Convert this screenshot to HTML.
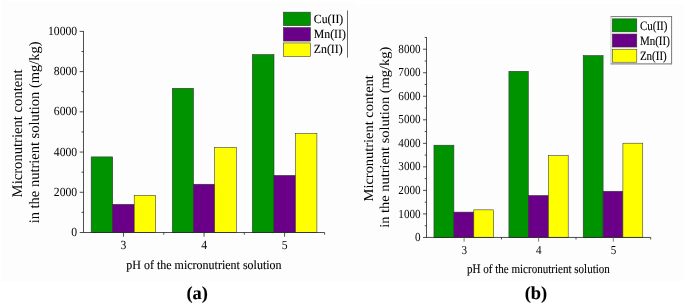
<!DOCTYPE html>
<html><head><meta charset="utf-8"><title>chart</title>
<style>
html,body{margin:0;padding:0;background:#fff;}
body{width:685px;height:304px;overflow:hidden;font-family:"Liberation Serif",serif;}
svg{display:block;}
text{font-family:"Liberation Serif",serif;fill:#000;text-rendering:geometricPrecision;stroke:#000;stroke-width:0.1px;}
text.tk{stroke-width:0;}
</style></head><body>
<svg width="685" height="304" viewBox="0 0 685 304">
<defs><filter id="soft" x="0" y="0" width="685" height="304" filterUnits="userSpaceOnUse"><feGaussianBlur stdDeviation="0.3"/></filter></defs>
<rect x="0" y="0" width="685" height="304" fill="#ffffff"/>
<g filter="url(#soft)">
<rect x="1" y="1" width="354" height="280.5" fill="#fdfdfd"/>
<rect x="355" y="4" width="328.5" height="277.5" fill="#fdfdfd"/>

<rect x="91.15" y="156.89" width="21.55" height="75.61" fill="#009300" stroke="#303030" stroke-width="0.55"/>
<rect x="112.70" y="204.35" width="21.50" height="28.15" fill="#6b0087" stroke="#303030" stroke-width="0.55"/>
<rect x="134.20" y="195.30" width="21.50" height="37.20" fill="#ffff00" stroke="#303030" stroke-width="0.55"/>
<rect x="172.30" y="88.31" width="21.20" height="144.19" fill="#009300" stroke="#303030" stroke-width="0.55"/>
<rect x="193.50" y="184.24" width="21.20" height="48.26" fill="#6b0087" stroke="#303030" stroke-width="0.55"/>
<rect x="214.70" y="147.43" width="21.60" height="85.07" fill="#ffff00" stroke="#303030" stroke-width="0.55"/>
<rect x="252.30" y="54.53" width="21.70" height="177.97" fill="#009300" stroke="#303030" stroke-width="0.55"/>
<rect x="274.00" y="175.39" width="21.50" height="57.11" fill="#6b0087" stroke="#303030" stroke-width="0.55"/>
<rect x="295.50" y="133.56" width="21.40" height="98.94" fill="#ffff00" stroke="#303030" stroke-width="0.55"/>
<g stroke="#222" stroke-width="0.8" fill="none">
<line x1="83.5" y1="31.0" x2="83.5" y2="232.5"/>
<line x1="83.1" y1="232.5" x2="324.6" y2="232.5"/>
<line x1="79.7" y1="232.50" x2="83.5" y2="232.50"/>
<line x1="81.5" y1="212.39" x2="83.5" y2="212.39"/>
<line x1="79.7" y1="192.28" x2="83.5" y2="192.28"/>
<line x1="81.5" y1="172.17" x2="83.5" y2="172.17"/>
<line x1="79.7" y1="152.06" x2="83.5" y2="152.06"/>
<line x1="81.5" y1="131.95" x2="83.5" y2="131.95"/>
<line x1="79.7" y1="111.84" x2="83.5" y2="111.84"/>
<line x1="81.5" y1="91.73" x2="83.5" y2="91.73"/>
<line x1="79.7" y1="71.62" x2="83.5" y2="71.62"/>
<line x1="81.5" y1="51.51" x2="83.5" y2="51.51"/>
<line x1="79.7" y1="31.40" x2="83.5" y2="31.40"/>
<line x1="123.45" y1="232.5" x2="123.45" y2="236.7"/>
<line x1="204.05" y1="232.5" x2="204.05" y2="236.7"/>
<line x1="284.6" y1="232.5" x2="284.6" y2="236.7"/>
<line x1="163.75" y1="232.5" x2="163.75" y2="234.7"/>
<line x1="244.3" y1="232.5" x2="244.3" y2="234.7"/>
<line x1="324.6" y1="232.5" x2="324.6" y2="234.7"/>
</g>
<g font-size="11.2" text-anchor="end">
<text transform="translate(77.20,236.10) scale(1,1.06)" font-size="11.7" text-anchor="end" class="tk">0</text>
<text transform="translate(77.20,195.88) scale(1,1.06)" font-size="11.7" text-anchor="end" class="tk">2000</text>
<text transform="translate(77.20,155.66) scale(1,1.06)" font-size="11.7" text-anchor="end" class="tk">4000</text>
<text transform="translate(77.20,115.44) scale(1,1.06)" font-size="11.7" text-anchor="end" class="tk">6000</text>
<text transform="translate(77.20,75.22) scale(1,1.06)" font-size="11.7" text-anchor="end" class="tk">8000</text>
<text transform="translate(77.20,35.00) scale(1,1.06)" font-size="11.7" text-anchor="end" class="tk">10000</text>
</g>
<g font-size="11.2" text-anchor="middle">
<text transform="translate(123.45,249.30) scale(1,1.06)" font-size="11.7" text-anchor="middle" class="tk">3</text>
<text transform="translate(204.05,249.30) scale(1,1.06)" font-size="11.7" text-anchor="middle" class="tk">4</text>
<text transform="translate(284.60,249.30) scale(1,1.06)" font-size="11.7" text-anchor="middle" class="tk">5</text>
</g>
<text transform="translate(203.90,268.90) scale(1,1.06)" font-size="12.0" text-anchor="middle" >pH of the micronutrient solution</text>
<text transform="translate(21.9,133.35) rotate(-90)" class="tk" font-size="14.65" text-anchor="middle">Micronutrient content</text>
<text transform="translate(38.5,132.35) rotate(-90)" class="tk" font-size="14.5" text-anchor="middle">in the nutrient solution (mg/kg)</text>
<text transform="translate(197.20,298.60) scale(1,1.0)" font-size="18.4" text-anchor="middle" font-weight="bold">(a)</text>
<line x1="347.5" y1="10.4" x2="347.5" y2="57.6" stroke="#444" stroke-width="0.8"/>
<rect x="283.4" y="12.15" width="27.0" height="13.5" fill="#009300" stroke="#303030" stroke-width="0.55"/>
<text transform="translate(313.80,23.35) scale(1,1.06)" font-size="11.8" text-anchor="start" >Cu(II)</text>
<rect x="283.4" y="27.55" width="27.0" height="13.5" fill="#6b0087" stroke="#303030" stroke-width="0.55"/>
<text transform="translate(313.80,38.35) scale(1,1.06)" font-size="11.8" text-anchor="start" >Mn(II)</text>
<rect x="283.4" y="42.95" width="27.0" height="13.5" fill="#ffff00" stroke="#303030" stroke-width="0.55"/>
<text transform="translate(313.80,53.35) scale(1,1.06)" font-size="11.8" text-anchor="start" >Zn(II)</text>
<rect x="433.95" y="145.20" width="19.95" height="92.25" fill="#009300" stroke="#303030" stroke-width="0.55"/>
<rect x="453.90" y="212.10" width="19.90" height="25.35" fill="#6b0087" stroke="#303030" stroke-width="0.55"/>
<rect x="473.80" y="209.85" width="19.80" height="27.60" fill="#ffff00" stroke="#303030" stroke-width="0.55"/>
<rect x="508.90" y="71.30" width="19.40" height="166.15" fill="#009300" stroke="#303030" stroke-width="0.55"/>
<rect x="528.30" y="195.50" width="20.10" height="41.95" fill="#6b0087" stroke="#303030" stroke-width="0.55"/>
<rect x="548.40" y="155.70" width="19.80" height="81.75" fill="#ffff00" stroke="#303030" stroke-width="0.55"/>
<rect x="583.20" y="55.55" width="19.90" height="181.90" fill="#009300" stroke="#303030" stroke-width="0.55"/>
<rect x="603.10" y="191.25" width="19.80" height="46.20" fill="#6b0087" stroke="#303030" stroke-width="0.55"/>
<rect x="622.90" y="143.20" width="19.85" height="94.25" fill="#ffff00" stroke="#303030" stroke-width="0.55"/>
<g stroke="#222" stroke-width="0.8" fill="none">
<line x1="426.5" y1="37.050000000000004" x2="426.5" y2="237.45"/>
<line x1="426.1" y1="237.45" x2="650.7" y2="237.45"/>
<line x1="423.0" y1="237.45" x2="426.5" y2="237.45"/>
<line x1="424.7" y1="225.69" x2="426.5" y2="225.69"/>
<line x1="423.0" y1="213.92" x2="426.5" y2="213.92"/>
<line x1="424.7" y1="202.15" x2="426.5" y2="202.15"/>
<line x1="423.0" y1="190.39" x2="426.5" y2="190.39"/>
<line x1="424.7" y1="178.62" x2="426.5" y2="178.62"/>
<line x1="423.0" y1="166.86" x2="426.5" y2="166.86"/>
<line x1="424.7" y1="155.09" x2="426.5" y2="155.09"/>
<line x1="423.0" y1="143.33" x2="426.5" y2="143.33"/>
<line x1="424.7" y1="131.56" x2="426.5" y2="131.56"/>
<line x1="423.0" y1="119.80" x2="426.5" y2="119.80"/>
<line x1="424.7" y1="108.03" x2="426.5" y2="108.03"/>
<line x1="423.0" y1="96.27" x2="426.5" y2="96.27"/>
<line x1="424.7" y1="84.50" x2="426.5" y2="84.50"/>
<line x1="423.0" y1="72.74" x2="426.5" y2="72.74"/>
<line x1="424.7" y1="60.97" x2="426.5" y2="60.97"/>
<line x1="423.0" y1="49.21" x2="426.5" y2="49.21"/>
<line x1="424.7" y1="37.44" x2="426.5" y2="37.44"/>
<line x1="464.1" y1="237.45" x2="464.1" y2="241.64999999999998" stroke="#5a5a5a"/>
<line x1="538.6" y1="237.45" x2="538.6" y2="241.64999999999998" stroke="#5a5a5a"/>
<line x1="613.3" y1="237.45" x2="613.3" y2="241.64999999999998" stroke="#5a5a5a"/>
<line x1="501.5" y1="237.45" x2="501.5" y2="239.45"/>
<line x1="576.0" y1="237.45" x2="576.0" y2="239.45"/>
<line x1="650.7" y1="237.45" x2="650.7" y2="239.45"/>
</g>
<g font-size="10.8" text-anchor="end">
<text transform="translate(420.60,241.05) scale(1,1.1)" font-size="11.15" text-anchor="end" class="tk">0</text>
<text transform="translate(420.60,217.52) scale(1,1.1)" font-size="11.15" text-anchor="end" class="tk">1000</text>
<text transform="translate(420.60,193.99) scale(1,1.1)" font-size="11.15" text-anchor="end" class="tk">2000</text>
<text transform="translate(420.60,170.46) scale(1,1.1)" font-size="11.15" text-anchor="end" class="tk">3000</text>
<text transform="translate(420.60,146.93) scale(1,1.1)" font-size="11.15" text-anchor="end" class="tk">4000</text>
<text transform="translate(420.60,123.40) scale(1,1.1)" font-size="11.15" text-anchor="end" class="tk">5000</text>
<text transform="translate(420.60,99.87) scale(1,1.1)" font-size="11.15" text-anchor="end" class="tk">6000</text>
<text transform="translate(420.60,76.34) scale(1,1.1)" font-size="11.15" text-anchor="end" class="tk">7000</text>
<text transform="translate(420.60,52.81) scale(1,1.1)" font-size="11.15" text-anchor="end" class="tk">8000</text>
</g>
<g font-size="10.8" text-anchor="middle">
<text transform="translate(464.30,253.60) scale(1,1.1)" font-size="11.15" text-anchor="middle" class="tk">3</text>
<text transform="translate(538.80,253.60) scale(1,1.1)" font-size="11.15" text-anchor="middle" class="tk">4</text>
<text transform="translate(613.50,253.60) scale(1,1.1)" font-size="11.15" text-anchor="middle" class="tk">5</text>
</g>
<text transform="translate(538.40,273.10) scale(1,1.16)" font-size="11.05" text-anchor="middle" >pH of the micronutrient solution</text>
<text transform="translate(373.4,138.3) rotate(-90) scale(1.06,1)" class="tk" font-size="13.62" text-anchor="middle">Micronutrient content</text>
<text transform="translate(389.2,137.3) rotate(-90) scale(1.06,1)" class="tk" font-size="13.62" text-anchor="middle">in the nutrient solution (mg/kg)</text>
<text transform="translate(535.90,298.60) scale(1,1.0)" font-size="18.4" text-anchor="middle" font-weight="bold">(b)</text>
<rect x="610.9" y="16.5" width="60.7" height="47.3" fill="#ffffff"/>
<line x1="610.6" y1="16.6" x2="671.9" y2="16.6" stroke="#555" stroke-width="0.8"/>
<line x1="671.6" y1="16.3" x2="671.6" y2="64.3" stroke="#555" stroke-width="0.8"/>
<line x1="610.6" y1="63.8" x2="671.9" y2="63.8" stroke="#8c8c8c" stroke-width="1.2"/>
<line x1="611.0" y1="16.3" x2="611.0" y2="64.3" stroke="#a8a8a8" stroke-width="0.7"/>
<rect x="612.3" y="18.85" width="24.5" height="13.0" fill="#009300" stroke="#303030" stroke-width="0.55"/>
<text transform="translate(639.90,29.55) scale(1,1.16)" font-size="11" text-anchor="start" >Cu(II)</text>
<rect x="612.3" y="34.03" width="24.5" height="13.0" fill="#6b0087" stroke="#303030" stroke-width="0.55"/>
<text transform="translate(639.90,44.60) scale(1,1.16)" font-size="11" text-anchor="start" >Mn(II)</text>
<rect x="612.3" y="49.21" width="24.5" height="13.0" fill="#ffff00" stroke="#303030" stroke-width="0.55"/>
<text transform="translate(639.90,59.65) scale(1,1.16)" font-size="11" text-anchor="start" >Zn(II)</text>
</g></svg></body></html>
